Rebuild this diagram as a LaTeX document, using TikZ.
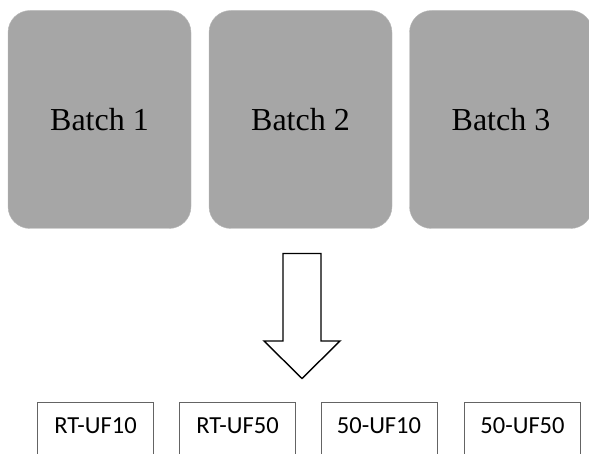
\documentclass[tikz,border=0pt]{standalone}
\usepackage{fontspec}
\setmainfont{Liberation Serif}
\newfontfamily\calib{Carlito}
\usepackage{xcolor}
\definecolor{batchgray}{RGB}{166,166,166}
\definecolor{edgegray}{RGB}{100,100,100}

\begin{document}
\begin{tikzpicture}[x=1pt, y=-1pt,
    batch/.style={fill=batchgray, draw=batchgray!80, rounded corners=22pt,
      minimum width=183pt, minimum height=218pt, inner sep=0pt,
      font=\fontsize{32}{38}\selectfont},
    group/.style={draw=edgegray, line width=0.8pt, anchor=north, inner sep=0pt,
      minimum width=116pt, text height=31.5pt, text depth=40pt,
      font=\calib\fontsize{24.5}{29}\selectfont}]
  \useasboundingbox (0,0) rectangle (589,454);
  \clip (0,0) rectangle (589,454);
  % Batches
  \node[batch] (b1) at (99.5, 119.5) {Batch 1};
  \node[batch] (b2) at (300.5, 119.5) {Batch 2};
  \node[batch] (b3) at (501, 119.5) {Batch 3};
  % Arrow
  \draw[line width=1.4pt, fill=white, line join=miter]
    (283, 253.5) -- (321, 253.5) -- (321, 341) -- (340, 341)
    -- (302, 378.5) -- (264, 341) -- (283, 341) -- cycle;
  % Groups
  \node[group] (g1) at (95.5, 402) {RT-UF10};
  \node[group] (g2) at (237.5, 402) {RT-UF50};
  \node[group] (g3) at (379, 402) {50-UF10};
  \node[group] (g4) at (522.5, 402) {50-UF50};
\end{tikzpicture}
\end{document}
